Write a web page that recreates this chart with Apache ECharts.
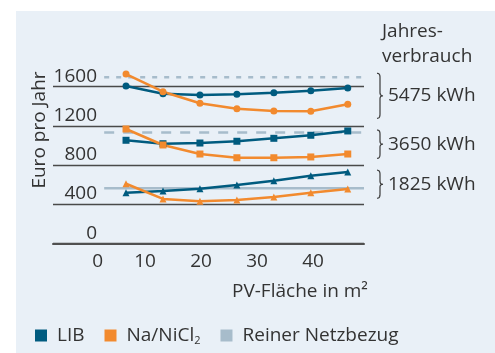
<!DOCTYPE html>
<html>
<head>
<meta charset="utf-8">
<script src="https://cdn.jsdelivr.net/npm/echarts@6/dist/echarts.min.js"></script>
<style>
  html, body { margin: 0; padding: 0; background: #ffffff; }
  #chart { width: 495px; height: 353px; }
</style>
</head>
<body>
<div id="chart"></div>
<script>
// PV area in m² (x positions of the simulated configurations)
const pvArea = [6.6, 13.2, 19.8, 26.4, 33.0, 39.6, 46.2];

// Annual cost in € per year, lithium-ion battery (LIB)
const lib5475 = [1607, 1529, 1515, 1522, 1539, 1559, 1587];
const lib3650 = [1054, 1019, 1026, 1044, 1074, 1105, 1149];
const lib1825 = [520, 537, 561, 598, 642, 693, 731];

// Annual cost in € per year, sodium nickel chloride battery
const na5475 = [1729, 1549, 1431, 1376, 1352, 1349, 1421];
const na3650 = [1169, 1006, 914, 876, 876, 884, 914];
const na1825 = [611, 456, 432, 445, 476, 520, 557];

// Pure grid supply cost for each annual consumption
const gridOnly = [1697, 1132, 566];
const gridOnlySpan = [2.7, 49.1];

// Annual consumption groups
const consumption = ['5475 kWh', '3650 kWh', '1825 kWh'];
// Brace ranges (€) grouping the curves of each consumption level
const braceRanges = [[1737, 1278], [1159, 870], [749, 463]];

const yTicks = [0, 400, 800, 1200, 1600];
const xTicks = [0, 10, 20, 30, 40];

const C_LIB = '#005b7f';
const C_NA = '#f28a2e';
const C_GRID = '#a7bccb';
const FONT = 'Open Sans';
const FS = 19;
const TXT = '#333333';

const zip = (xs, ys) => xs.map((x, i) => [x, ys[i]]);

function batterySeries(name, color, values, symbol) {
  return {
    name: name,
    type: 'line',
    data: zip(pvArea, values),
    symbol: symbol,
    symbolSize: 7,
    showSymbol: true,
    clip: false,
    color: color,
    lineStyle: { width: 2.5, color: color },
    itemStyle: { color: color },
    z: 3
  };
}

function gridSeries(value, type) {
  return {
    name: 'Reiner Netzbezug',
    type: 'line',
    data: zip(gridOnlySpan, [value, value]),
    symbol: 'none',
    clip: false,
    color: C_GRID,
    lineStyle: { width: 2.5, color: C_GRID, type: type },
    itemStyle: { color: C_GRID },
    z: 2
  };
}

const chart = echarts.init(document.getElementById('chart'), null, { renderer: 'canvas' });

const option = {
  animation: false,
  backgroundColor: '#ffffff',
  textStyle: { fontFamily: FONT, color: TXT },
  grid: { left: 53, right: 131, top: 86.7, bottom: 109.3, containLabel: false },
  xAxis: {
    type: 'value',
    min: -6.44,
    max: 49.1,
    axisLine: { show: true, onZero: false, lineStyle: { color: '#505050', width: 2 } },
    axisTick: { show: false },
    splitLine: { show: false },
    axisLabel: {
      customValues: xTicks,
      margin: 8,
      fontSize: FS,
      fontFamily: FONT,
      color: TXT,
      formatter: v => v === 0 ? '{z|0}' : String(v),
      rich: { z: { fontSize: FS, fontFamily: FONT, color: TXT, padding: [0, 0, 0, 17] } }
    }
  },
  yAxis: {
    type: 'value',
    min: 0,
    max: 1600,
    interval: 400,
    axisLine: { show: false },
    axisTick: { show: false },
    splitLine: { show: true, lineStyle: { color: '#4a4a4a', width: 1.3 } },
    axisLabel: {
      margin: -44,
      align: 'right',
      verticalAlign: 'bottom',
      padding: [0, 0, 1, 0],
      fontSize: FS,
      fontFamily: FONT,
      color: TXT,
      formatter: v => yTicks.indexOf(v) >= 0 ? String(v) : ''
    }
  },
  legend: {
    left: 30,
    top: 321,
    icon: 'rect',
    itemWidth: 12,
    itemHeight: 12,
    itemGap: 20,
    data: ['LIB', 'Na/NiCl2', 'Reiner Netzbezug'],
    itemStyle: { borderWidth: 0 },
    lineStyle: { width: 0 },
    formatter: n => n === 'Na/NiCl2' ? 'Na/NiCl{sub|2}' : n,
    textStyle: {
      fontSize: FS,
      fontFamily: FONT,
      color: TXT,
      padding: [0, 0, 0, 5],
      rich: {
        sub: { fontSize: 11, fontFamily: FONT, color: TXT, padding: [10, 0, 0, 0] }
      }
    }
  },
  series: [
    gridSeries(gridOnly[0], [5, 7]),
    gridSeries(gridOnly[1], [10, 9]),
    gridSeries(gridOnly[2], 'solid'),
    batterySeries('LIB', C_LIB, lib5475, 'circle'),
    batterySeries('Na/NiCl2', C_NA, na5475, 'circle'),
    batterySeries('LIB', C_LIB, lib3650, 'rect'),
    batterySeries('Na/NiCl2', C_NA, na3650, 'rect'),
    batterySeries('LIB', C_LIB, lib1825, 'triangle'),
    batterySeries('Na/NiCl2', C_NA, na1825, 'triangle')
  ]
};

chart.setOption(option);

// Right-pointing curly brace from y0 to y1, sampled as a polyline
function bracePoints(x, y0, y1, w) {
  const ym = (y0 + y1) / 2;
  const h = w / 2;
  const pts = [];
  const quad = (p0, p1, p2) => {
    for (let t = 0; t <= 1.0001; t += 0.125) {
      const a = (1 - t) * (1 - t), b = 2 * (1 - t) * t, c = t * t;
      pts.push([a * p0[0] + b * p1[0] + c * p2[0], a * p0[1] + b * p1[1] + c * p2[1]]);
    }
  };
  quad([x, y0], [x + h, y0], [x + h, y0 + 4]);
  pts.push([x + h, ym - 3]);
  quad([x + h, ym - 3], [x + h, ym], [x + w, ym]);
  quad([x + w, ym], [x + h, ym], [x + h, ym + 3]);
  pts.push([x + h, y1 - 4]);
  quad([x + h, y1 - 4], [x + h, y1], [x, y1]);
  return pts;
}

const font = `${FS}px "${FONT}"`;
const graphics = [
  { type: 'rect', left: 16, top: 11, shape: { width: 479, height: 342 }, style: { fill: '#e9f0f7' }, z: -10, silent: true },
  { type: 'text', x: 39.5, y: 130, rotation: Math.PI / 2,
    style: { text: 'Euro pro Jahr', font: font, fill: TXT, align: 'center', verticalAlign: 'middle' } },
  { type: 'text', x: 232, y: 292,
    style: { text: 'PV-Fläche in m²', font: font, fill: TXT, align: 'left', verticalAlign: 'middle' } },
  { type: 'text', x: 382, y: 31.7,
    style: { text: 'Jahres-', font: font, fill: TXT, align: 'left', verticalAlign: 'middle' } },
  { type: 'text', x: 382, y: 56.7,
    style: { text: 'verbrauch', font: font, fill: TXT, align: 'left', verticalAlign: 'middle' } }
];

braceRanges.forEach((r, i) => {
  const yTop = chart.convertToPixel({ yAxisIndex: 0 }, r[0]);
  const yBot = chart.convertToPixel({ yAxisIndex: 0 }, r[1]);
  graphics.push({
    type: 'polyline',
    shape: { points: bracePoints(377, yTop, yBot, 6) },
    style: { fill: null, stroke: '#3a3a3a', lineWidth: 1.2 }
  });
  graphics.push({
    type: 'text', x: 388, y: (yTop + yBot) / 2,
    style: { text: consumption[i], font: font, fill: TXT, align: 'left', verticalAlign: 'middle' }
  });
});

chart.setOption({ graphic: graphics });
</script>
</body>
</html>
